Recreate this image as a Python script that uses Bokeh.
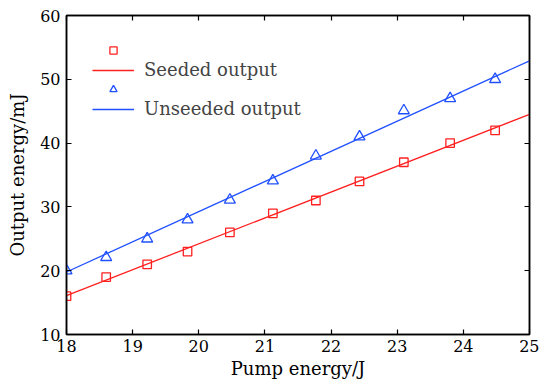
from bokeh.plotting import figure
from bokeh.models import Legend, LegendItem, LinearAxis, Range1d, FixedTicker
from bokeh.embed import file_html
from bokeh.resources import INLINE

pump = [18.0, 18.6, 19.22, 19.83, 20.47, 21.12, 21.77, 22.43, 23.1, 23.8, 24.48]
seeded = [16, 19, 21, 23, 26, 29, 31, 34, 37, 40, 42]
unseeded = [20, 22.1, 25, 28, 31.1, 34.1, 38, 41, 45.1, 47, 50]
fit_x = [18, 25]
seeded_fit = [16.1, 44.5]
unseeded_fit = [19.8, 52.9]
x_ticks = [18, 19, 20, 21, 22, 23, 24, 25]
y_ticks = [10, 20, 30, 40, 50, 60]

RED = "#ff2020"
BLUE = "#2050ff"
FONT = "DejaVu Serif"
FS = "16px"
LFS = "18px"

p = figure(width=539, height=383, output_backend="svg", toolbar_location=None,
           x_range=Range1d(18, 25), y_range=Range1d(10, 60),
           min_border_left=66, min_border_right=10, min_border_top=15, min_border_bottom=49)
p.grid.visible = False
p.outline_line_color = "black"
p.outline_line_width = 1.5
p.background_fill_color = "white"
p.border_fill_color = "white"

for ax in [p.xaxis[0], p.yaxis[0]]:
    ax.major_label_text_font = FONT
    ax.major_label_text_font_size = FS
    ax.major_label_text_color = "black"
    ax.axis_label_text_font = FONT
    ax.axis_label_text_font_size = LFS
    ax.axis_label_text_font_style = "normal"
    ax.axis_label_text_color = "black"
    ax.major_tick_in = 5
    ax.major_tick_out = 0
    ax.minor_tick_line_color = None
    ax.axis_line_width = 1.5
    ax.major_tick_line_width = 1.2
p.xaxis[0].ticker = FixedTicker(ticks=x_ticks)
p.yaxis[0].ticker = FixedTicker(ticks=y_ticks)
p.xaxis[0].axis_label = "Pump energy/J"
p.yaxis[0].axis_label = "Output energy/mJ"
p.xaxis[0].major_label_standoff = 5
p.yaxis[0].major_label_standoff = 6
p.xaxis[0].axis_label_standoff = 3
p.yaxis[0].axis_label_standoff = 9

top = LinearAxis(ticker=FixedTicker(ticks=x_ticks), major_label_text_color=None,
                 major_tick_in=5, major_tick_out=0, minor_tick_line_color=None,
                 axis_line_width=1.5, major_tick_line_width=1.2)
right = LinearAxis(ticker=FixedTicker(ticks=y_ticks), major_label_text_color=None,
                   major_tick_in=5, major_tick_out=0, minor_tick_line_color=None,
                   axis_line_width=1.5, major_tick_line_width=1.2)
p.add_layout(top, "above")
p.add_layout(right, "right")

ls = p.line(fit_x, seeded_fit, line_color=RED, line_width=1.3)
lu = p.line(fit_x, unseeded_fit, line_color=BLUE, line_width=1.3)
ss = p.scatter(pump, seeded, marker="square", size=8.5, fill_color=None,
               line_color=RED, line_width=1.3)
su = p.scatter(pump, unseeded, marker="triangle", size=11, fill_color=None,
               line_color=BLUE, line_width=1.3)

legend = Legend(items=[
    LegendItem(label=" ", renderers=[ss]),
    LegendItem(label="Seeded output", renderers=[ls]),
    LegendItem(label=" ", renderers=[su]),
    LegendItem(label="Unseeded output", renderers=[lu]),
], location="top_left", margin=26, padding=6, spacing=-3,
    glyph_width=42, glyph_height=18, label_height=18, label_standoff=10,
    label_text_font=FONT, label_text_font_size=LFS,
    border_line_color=None, background_fill_alpha=0)
p.add_layout(legend, "center")

open("out.html", "w").write(file_html(p, INLINE))
